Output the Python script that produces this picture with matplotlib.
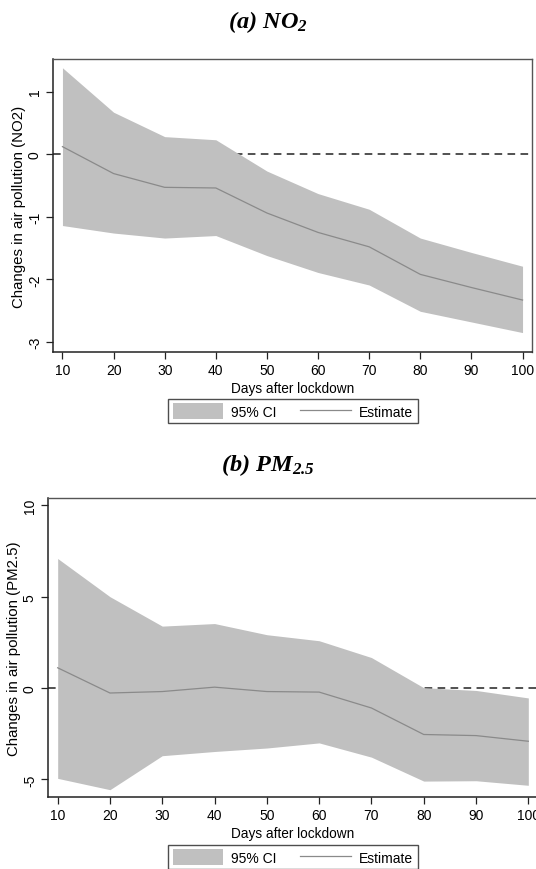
import numpy as np
import matplotlib
matplotlib.use("Agg")
import matplotlib.pyplot as plt
from matplotlib.patches import Patch
from matplotlib.lines import Line2D

plt.rcParams["font.family"] = ["Liberation Sans", "DejaVu Sans"]
plt.rcParams["axes.unicode_minus"] = False
plt.rcParams["mathtext.fontset"] = "custom"
plt.rcParams["mathtext.rm"] = "Liberation Serif:italic:bold"
plt.rcParams["mathtext.it"] = "Liberation Serif:italic:bold"

days = [10, 20, 30, 40, 50, 60, 70, 80, 90, 100]

# NO2 panel
no2_est = [0.12, -0.31, -0.53, -0.54, -0.94, -1.25, -1.48, -1.92, -2.13, -2.33]
no2_upper = [1.38, 0.67, 0.28, 0.23, -0.27, -0.63, -0.88, -1.34, -1.57, -1.79]
no2_lower = [-1.14, -1.26, -1.34, -1.30, -1.62, -1.89, -2.09, -2.51, -2.68, -2.85]
no2_ticks = [-3, -2, -1, 0, 1]

# PM2.5 panel
pm_est = [1.11, -0.27, -0.19, 0.05, -0.19, -0.22, -1.09, -2.54, -2.60, -2.91]
pm_upper = [7.09, 5.0, 3.39, 3.53, 2.92, 2.59, 1.67, 0.02, -0.13, -0.54]
pm_lower = [-4.94, -5.56, -3.70, -3.47, -3.28, -3.0, -3.78, -5.09, -5.07, -5.32]
pm_ticks = [-5, 0, 5, 10]

W, H = 536, 870
fig = plt.figure(figsize=(W / 100, H / 100), dpi=100)

ci_color = "#c0c0c0"
est_color = "#8a8a8a"


def panel(rect, est, upper, lower, yticks, ylim, ylabel, title, title_y, leg_y):
    ax = fig.add_axes(rect)
    ax.axhline(0, color="#222222", lw=1.1, ls=(0, (5, 3.5)), zorder=1)
    ax.fill_between(days, lower, upper, color=ci_color, lw=0, zorder=2)
    ax.plot(days, est, color=est_color, lw=0.9, zorder=3)
    ax.set_xlim(8.15, 101.85)
    ax.set_ylim(*ylim)
    ax.set_xticks(days)
    ax.set_yticks(yticks)
    ax.tick_params(direction="out", length=5, width=0.9, labelsize=10,
                   color="#222222", pad=3)
    for lab in ax.get_yticklabels():
        lab.set_rotation(90)
        lab.set_va("center")
    for s in ["left", "bottom"]:
        ax.spines[s].set_linewidth(1.1)
        ax.spines[s].set_color("#222222")
    for s in ["top", "right"]:
        ax.spines[s].set_linewidth(1.0)
        ax.spines[s].set_color("#555555")
    ax.set_xlabel("Days after lockdown", fontsize=9.8, labelpad=3)
    ax.set_ylabel(ylabel, fontsize=10.8, labelpad=1)
    fig.text(0.5, 1 - title_y / H, title, ha="center", va="center", fontsize=17.5)
    handles = [Patch(facecolor=ci_color, edgecolor="none"),
               Line2D([0], [0], color=est_color, lw=0.9)]
    leg = fig.legend(handles, ["95% CI", "Estimate"], loc="center", ncol=2,
                     bbox_to_anchor=(293 / W, 1 - leg_y / H), fontsize=10,
                     frameon=True, fancybox=False, edgecolor="#222222",
                     handlelength=3.65, handleheight=1.3, columnspacing=1.7,
                     handletextpad=0.58, borderpad=0.3, borderaxespad=0)
    leg.get_frame().set_linewidth(1.0)
    return ax


panel([53 / W, 1 - 353 / H, 479 / W, 293 / H], no2_est, no2_upper, no2_lower,
      no2_ticks, (-3.16, 1.52), "Changes in air pollution (NO2)",
      r"$\mathrm{(a)\ NO_2}$", 22, 412)

panel([48 / W, 1 - 798 / H, 490 / W, 299 / H], pm_est, pm_upper, pm_lower,
      pm_ticks, (-5.96, 10.4), "Changes in air pollution (PM2.5)",
      r"$\mathrm{(b)\ PM_{2.5}}$", 465, 858)

fig.savefig("out.png", dpi=100)
